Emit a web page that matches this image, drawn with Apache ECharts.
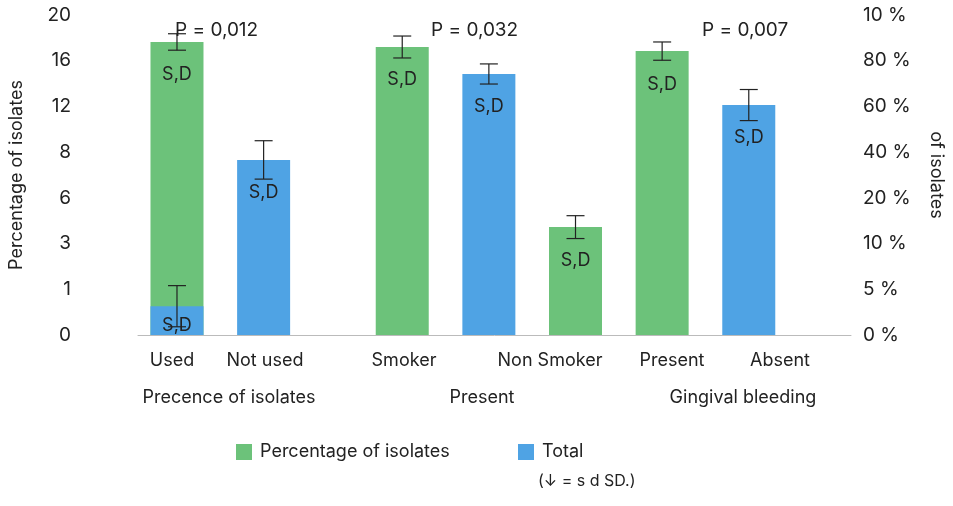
<!DOCTYPE html><html><head><meta charset="utf-8">
<script src="https://cdn.jsdelivr.net/npm/echarts@6/dist/echarts.min.js"></script>
<style>body{margin:0}#c{width:953px;height:506px}</style></head><body><div id="c"></div>
<script>
const leftTicks=['0','1','3','6','8','12','16','20'];
const rightTicks=['0 %','5 %','10 %','20 %','40 %','60 %','80 %','10 %'];
const barNames=['Used','Not used','Smoker','Non Smoker','Present','Absent'];
const greenVals=[[0,6.41],[2.6,6.30],[4.6,2.36],[5.6,6.21]];
const blueVals=[[0,0.63],[1,3.83],[3.6,5.71],[6.6,5.03]];
const errBars=[[0,6.41,0.18],[0,0.63,0.45],[1,3.83,0.42],[2.6,6.30,0.24],[3.6,5.71,0.22],[4.6,2.36,0.25],[5.6,6.21,0.2],[6.6,5.03,0.34]];
const pLabels=['P = 0,012','P = 0,032','P = 0,007'];
const G='#6cc27a',B='#4fa3e4';
const chart=echarts.init(document.getElementById('c'));
const F='Inter, Roboto, sans-serif';
const sd={show:true,position:'insideTop',distance:24,formatter:'S,D',color:'#222',fontSize:18,fontFamily:F};
const txt=(t,x,y,size,align)=>({type:'text',x:x,y:y,style:{text:t,fontSize:size||18,fill:'#222',fontFamily:F,textAlign:align||'center',textVerticalAlign:'middle'}});
chart.setOption({
 animation:false,
 grid:{left:135,right:98,top:15,bottom:171},
 xAxis:{type:'value',min:-0.45,max:7.78,axisLabel:{show:false},axisTick:{show:false},splitLine:{show:false},axisLine:{show:true,onZero:false,lineStyle:{color:'#bbb'}}},
 yAxis:[{type:'value',min:0,max:7,interval:1,position:'left',splitLine:{show:false},axisLine:{show:false},axisTick:{show:false},
   axisLabel:{formatter:v=>leftTicks[v],fontSize:19,color:'#222',fontFamily:F,margin:67},
   name:'Percentage of isolates',nameLocation:'middle',nameGap:112,nameTextStyle:{fontSize:18,color:'#222',fontFamily:F}},
  {type:'value',min:0,max:7,interval:1,position:'right',splitLine:{show:false},axisLine:{show:false},axisTick:{show:false},
   axisLabel:{formatter:v=>rightTicks[v],fontSize:19,color:'#222',fontFamily:F,margin:12},
   name:'of isolates',nameLocation:'middle',nameGap:76,nameRotate:-90,nameTextStyle:{fontSize:18,color:'#222',fontFamily:F}}],
 series:[
  {type:'bar',data:greenVals,barWidth:53,itemStyle:{color:G},label:sd,z:2},
  {type:'bar',data:blueVals.map((d,i)=>i===0?{value:d,label:Object.assign({},sd,{distance:10})}:d),barWidth:53,barGap:'-100%',itemStyle:{color:B},label:sd,z:3},
  {type:'custom',z:5,data:errBars,renderItem:(p,api)=>{
    const x=api.value(0),y=api.value(1),e=api.value(2);
    const t=api.coord([x,y+e]),b=api.coord([x,y-e]);const w=9;
    const s={stroke:'#222',lineWidth:1.2};
    return {type:'group',children:[
     {type:'line',shape:{x1:t[0],y1:t[1],x2:b[0],y2:b[1]},style:s},
     {type:'line',shape:{x1:t[0]-w,y1:t[1],x2:t[0]+w,y2:t[1]},style:s},
     {type:'line',shape:{x1:b[0]-w,y1:b[1],x2:b[0]+w,y2:b[1]},style:s}]};
  }}
 ],
 graphic:[
  ...[[barNames[0],172],[barNames[1],265],[barNames[2],404],[barNames[3],550],[barNames[4],672],[barNames[5],780]].map(([t,x])=>txt(t,x,361)),
  ...[['Precence of isolates',229],['Present',482],['Gingival bleeding',743]].map(([t,x])=>txt(t,x,398)),
  ...pLabels.map((t,i)=>txt(t,[175,431,702][i],30,19,'left')),
  {type:'rect',x:236,y:444,shape:{width:16,height:16},style:{fill:G}},
  txt('Percentage of isolates',260,452,18,'left'),
  {type:'rect',x:518,y:444,shape:{width:16,height:16},style:{fill:B}},
  txt('Total',542,452,18,'left'),
  txt('(↓ = s d SD.)',538,481,16,'left')
 ]
});
</script></body></html>
